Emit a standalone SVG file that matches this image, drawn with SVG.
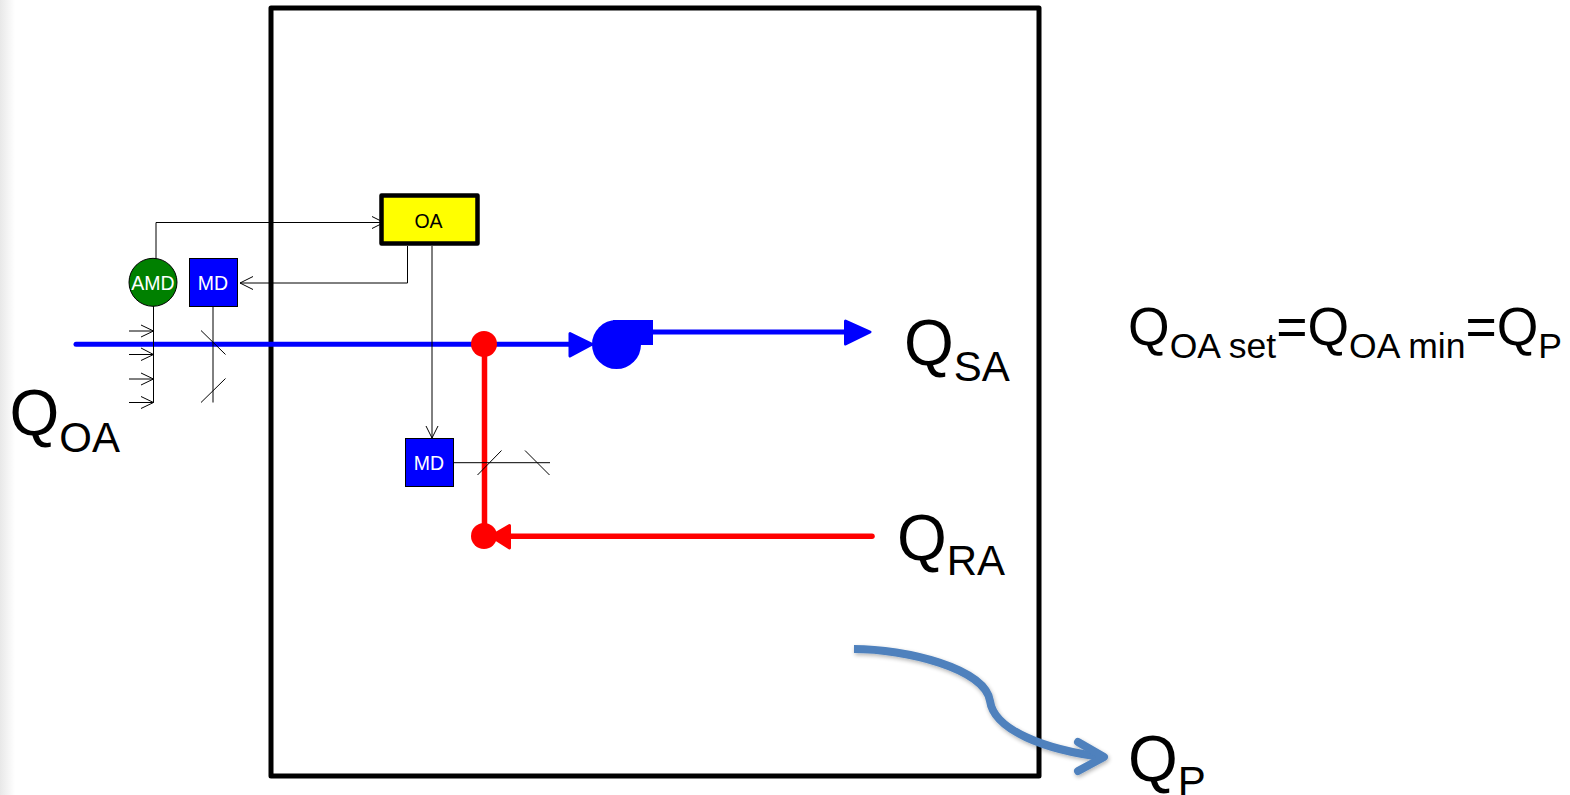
<svg xmlns="http://www.w3.org/2000/svg" width="1570" height="795" viewBox="0 0 1570 795">
<style>
.t{font-family:"Liberation Sans",Arial,sans-serif}
.q{font-size:64px;fill:#000}
.s{font-size:42px}
.gr{fill:none;stroke:#000;stroke-width:1}
.lbl{font-size:19.5px;text-anchor:middle;fill:#fff}
.md{fill:#0000ff;stroke:#000;stroke-width:1}
.b{fill:none;stroke:#0000ff;stroke-width:5;stroke-linecap:round}
.r{fill:none;stroke:#ff0000;stroke-width:5.500;stroke-linecap:round}
</style>
<defs>
<linearGradient id="edge" x1="0" x2="1" y1="0" y2="0"><stop offset="0" stop-color="#e8e8e8"/><stop offset="1" stop-color="#ffffff"/></linearGradient>
<filter id="sh" x="-10%" y="-10%" width="120%" height="125%"><feGaussianBlur in="SourceAlpha" stdDeviation="2"/><feOffset dx="1" dy="2"/><feComponentTransfer><feFuncA type="linear" slope="0.3"/></feComponentTransfer><feMerge><feMergeNode/><feMergeNode in="SourceGraphic"/></feMerge></filter>
</defs>
<rect width="1570" height="795" fill="#fff"/>
<rect width="15" height="795" fill="url(#edge)"/>
<g id="room"><rect x="271" y="8" width="768" height="768" fill="none" stroke="#000" stroke-width="5" stroke-linejoin="round"/></g>
<g id="connectors">
<path class="b" d="M76 344.300H570"/>
<path class="b" d="M653 332H848"/>
<path class="r" d="M484.500 344V536"/>
<path class="r" d="M872 536.300H505"/>
<path class="gr" d="M156 258V222.500H384M372 216.500L384 222.500L372 228.500"/>
<path class="gr" d="M407.500 246V283H240M253 276.500L240 283L253 289.500"/>
<path class="gr" d="M432 246V438M426 426L432 438L438 426"/>
<path class="gr" d="M153.500 306V402.500"/>
<path class="gr" d="M129 331H153.500M141 325L153.500 331L141 337M129 354.500H153.500M141 348L153.500 354.500L141 360.500M129 379H153.500M141 373L153.500 379L141 385M129 402.500H153.500M141 396.500L153.500 402.500L141 408.500"/>
<path class="gr" d="M213 306V402.500M201 330.500L225.500 354.500M201 402.500L225.500 378.500"/>
<path class="gr" d="M453.500 462.700H550M477.500 475L501.500 450.500M525 450.500L549.500 475"/>
<path fill="#0000ff" stroke="#0000ff" stroke-width="3" stroke-linejoin="round" d="M570 333.500L592 344.300L570 356ZM845.500 321L870 332L845.500 344Z"/>
<path fill="#ff0000" stroke="#ff0000" stroke-width="3" stroke-linejoin="round" d="M509.500 525.500L491 536.300L509.500 548Z"/>
</g>
<g id="mixing-junction"><circle cx="484" cy="344" r="13" fill="#ff0000"/></g>
<g id="return-junction"><circle cx="484" cy="536" r="13" fill="#ff0000"/></g>
<g id="fan"><circle cx="616.500" cy="344.500" r="24.500" fill="#0000ff"/><rect x="613" y="320" width="40" height="25" fill="#0000ff"/></g>
<g id="oa-box"><rect x="381.500" y="195.500" width="96" height="48" fill="#ffff00" stroke="#000" stroke-width="4.500" stroke-linejoin="round"/><text class="t" x="428.500" y="228" font-size="19.500" text-anchor="middle" fill="#000">OA</text></g>
<g id="amd"><circle cx="153" cy="282.300" r="24" fill="#008000" stroke="#000" stroke-width="1"/><text class="t lbl" x="153" y="289.500">AMD</text></g>
<g id="md-oa"><rect class="md" x="189.500" y="258.500" width="48" height="48"/><text class="t lbl" x="213" y="289.500">MD</text></g>
<g id="md-ra"><rect class="md" x="405.500" y="438.500" width="48" height="48"/><text class="t lbl" x="429" y="469.500">MD</text></g>
<g id="exhaust"><g filter="url(#sh)" fill="none" stroke="#4f81bd" stroke-width="8" stroke-linejoin="round"><path d="M854 649C905 649 985 668 990 701C994 730 1045 750 1103 757"/><path stroke-linecap="round" d="M1078 742L1104 757L1078 771"/></g></g>
<g id="labels">
<text class="t q" x="9.500" y="434.500">Q<tspan class="s" dy="17">OA</tspan></text>
<text class="t q" x="904" y="364.500">Q<tspan class="s" dy="16">SA</tspan></text>
<text class="t q" x="897" y="559.500">Q<tspan class="s" dy="15">RA</tspan></text>
<text class="t q" x="1128" y="780.500">Q<tspan class="s" dy="15">P</tspan></text>
<text class="t" x="1128" y="344.500" font-size="53.500">Q<tspan font-size="35.500" dy="13">OA set</tspan><tspan dy="-13">=Q</tspan><tspan font-size="35.500" dy="13">OA min</tspan><tspan dy="-13">=Q</tspan><tspan font-size="35.500" dy="13">P</tspan></text>
</g>
</svg>
